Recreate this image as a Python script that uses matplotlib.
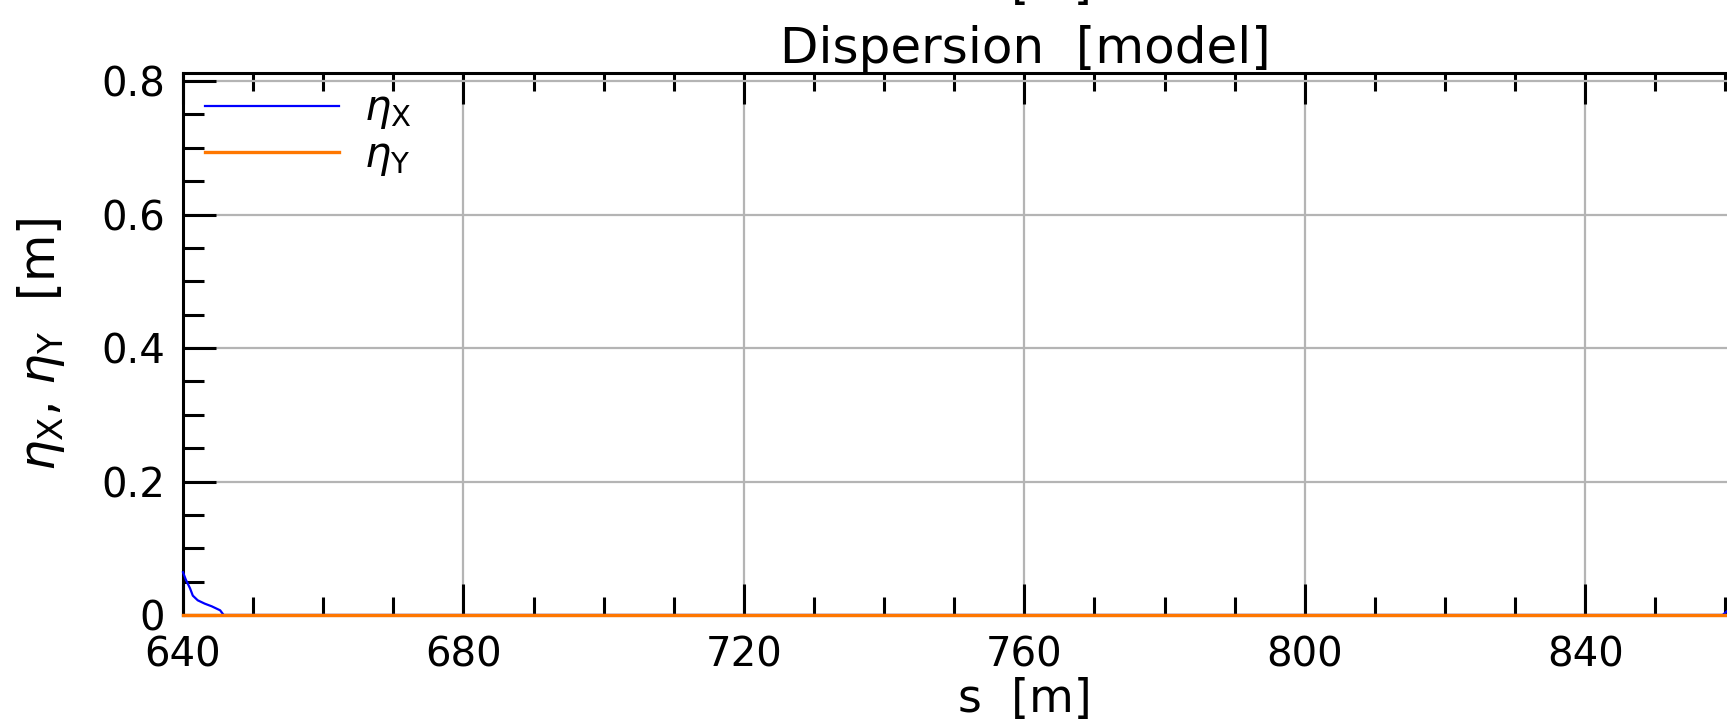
import numpy as np
import matplotlib.pyplot as plt
from matplotlib.ticker import MultipleLocator


# longitudinal position [m] and dispersion values [m]
s = [640.0, 640.4, 641.0, 641.4, 642.1, 643.1, 644.1, 645.3, 645.8, 859.6, 860.5]
eta_x = [0.064, 0.053, 0.040, 0.029, 0.022, 0.017, 0.013, 0.007, 0.0, 0.0, 0.008]
eta_y = [0.0, 0.0, 0.0, 0.0, 0.0, 0.0, 0.0, 0.0, 0.0, 0.0, 0.0]

x_ticks = [640, 680, 720, 760, 800, 840]
y_ticks = [0.0, 0.2, 0.4, 0.6, 0.8]
y_tick_labels = ['0', '0.2', '0.4', '0.6', '0.8']

series_labels = [r'$\eta_\mathrm{X}$', r'$\eta_\mathrm{Y}$']
series_colors = ['#0000ff', '#ff7700']


fig = plt.figure(figsize = (17.27, 7.25), dpi = 100)

# axes run past the right edge of the page, like the rest of the lattice plot
ax = fig.add_axes([183/1727, 110/725, 1684/1727, 542/725])

ax.plot(s, eta_x, color = series_colors[0], lw = 1.6, label = series_labels[0], zorder = 3, clip_on = False)
ax.plot(s, eta_y, color = series_colors[1], lw = 2.4, label = series_labels[1], zorder = 3.1, clip_on = False)

ax.set_xlim(640, 880.2)
ax.set_ylim(0, 0.812)

ax.set_xticks(x_ticks)
ax.xaxis.set_minor_locator(MultipleLocator(10))
ax.set_yticks(y_ticks)
ax.set_yticklabels(y_tick_labels)
ax.yaxis.set_minor_locator(MultipleLocator(0.05))

ax.tick_params(axis = 'x', which = 'both', direction = 'in', top = True, bottom = True, width = 2.2, color = 'black')
ax.tick_params(axis = 'x', which = 'major', length = 22, pad = 15, labelsize = 29)
ax.tick_params(axis = 'x', which = 'minor', length = 13)
ax.tick_params(axis = 'y', which = 'both', direction = 'in', left = True, right = True, width = 2.2, color = 'black')
ax.tick_params(axis = 'y', which = 'major', length = 24, pad = 13, labelsize = 29)
ax.tick_params(axis = 'y', which = 'minor', length = 15)

for sp in ax.spines.values():
    sp.set_linewidth(2.2)
    sp.set_color('black')

ax.grid(True, which = 'major', color = '#b4b4b4', lw = 1.6)
ax.set_axisbelow(True)

ax.set_title('Dispersion  [model]', fontsize = 36, pad = 2)
ax.set_xlabel('s  [m]', fontsize = 33, labelpad = 1)
ax.set_ylabel(r'$\eta_\mathrm{X}$, $\eta_\mathrm{Y}$  [m]', fontsize = 35)
ax.yaxis.set_label_coords(-0.069, 0.5)

ax.legend(loc = 'upper left', bbox_to_anchor = (0.0034, 1.004), frameon = False, fontsize = 30,
          handlelength = 3.2, handletextpad = 0.6, labelspacing = 0.05, borderaxespad = 0.0)

# bottom of the axis label from the panel above
fig.text(ax.get_position().x0 + ax.get_position().width/2, 1.0 + 2/725, 's  [m]', fontsize = 33,
         ha = 'center', va = 'baseline')

fig.savefig('out.png', dpi = 100)
